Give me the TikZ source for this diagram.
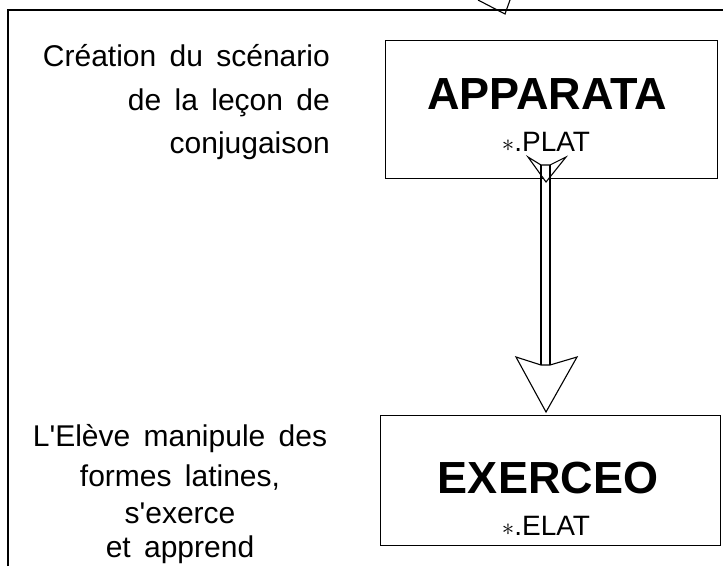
\documentclass[tikz,border=0pt]{standalone}
\usepackage{fontspec}
\setmainfont{Liberation Sans}[WordSpace=1.6]
\tikzset{
  lbl/.style={inner sep=0pt, font=\fontsize{30}{34}\selectfont},
  ttl/.style={inner sep=0pt, font=\fontsize{45}{50}\selectfont\bfseries},
  ext/.style={inner sep=0pt, font=\fontsize{28}{30}\selectfont},
  box/.style={draw, line width=1pt, inner sep=0pt},
  ln/.style={line width=1.1pt},
  head/.style={draw, line width=1.1pt, fill=white, line join=miter}
}
\begin{document}
\begin{tikzpicture}[x=1pt,y=-1pt]
\useasboundingbox (0,0) rectangle (723,566);
% outer frame
\coordinate (fbl) at (8,566);
\coordinate (ftl) at (8,10);
\coordinate (ftr) at (723,10);
\draw[ln] (fbl) -- (ftl) -- (ftr);
% arrow coming from above
\coordinate (ta1) at (478,0);
\coordinate (tat) at (505,14);
\coordinate (ta2) at (510,0);
\draw[ln] (ta1) -- (tat) -- (ta2);
% boxes
\node[box, minimum width=332pt, minimum height=138pt] (app) at (551,109) {};
\node[box, minimum width=340pt, minimum height=130pt] (exo) at (550,480) {};
% box texts
\node[ttl, anchor=base] (appt) at (547,109) {APPARATA};
\node[ext, anchor=base] (plat) at (546,151) {$\ast$.PLAT};
\node[ttl, anchor=base] (exot) at (548,493) {EXERCEO};
\node[ext, anchor=base] (elat) at (546,535) {$\ast$.ELAT};
% left texts
\node[lbl, anchor=base east] (l1) at (330,66) {Création du scénario};
\node[lbl, anchor=base east] (l2) at (330,110) {de la leçon de};
\node[lbl, anchor=base east] (l3) at (330,153) {conjugaison};
\node[lbl, anchor=base] (m1) at (180,446) {L\textquotesingle Elève manipule des};
\node[lbl, anchor=base] (m2) at (180,486) {formes latines,};
\node[lbl, anchor=base] (m3) at (180,523) {s\textquotesingle exerce};
\node[lbl, anchor=base] (m4) at (180,557) {et apprend};
% double arrow
\coordinate (vL) at (528,157);
\coordinate (vnl) at (541,165);
\coordinate (vnr) at (550,165);
\coordinate (vR) at (566,157);
\coordinate (vT) at (546,182);
\draw[head] (vL) -- (vnl) -- (vnr) -- (vR) -- (vT) -- cycle;
\coordinate (hL) at (516,357);
\coordinate (hnl) at (541,365);
\coordinate (hnr) at (550,365);
\coordinate (hR) at (577,357);
\coordinate (hT) at (546,412);
\draw[head] (hL) -- (hnl) -- (hnr) -- (hR) -- (hT) -- cycle;
\draw[ln] (vnl) -- (hnl);
\draw[ln] (vnr) -- (hnr);
\end{tikzpicture}
\end{document}
